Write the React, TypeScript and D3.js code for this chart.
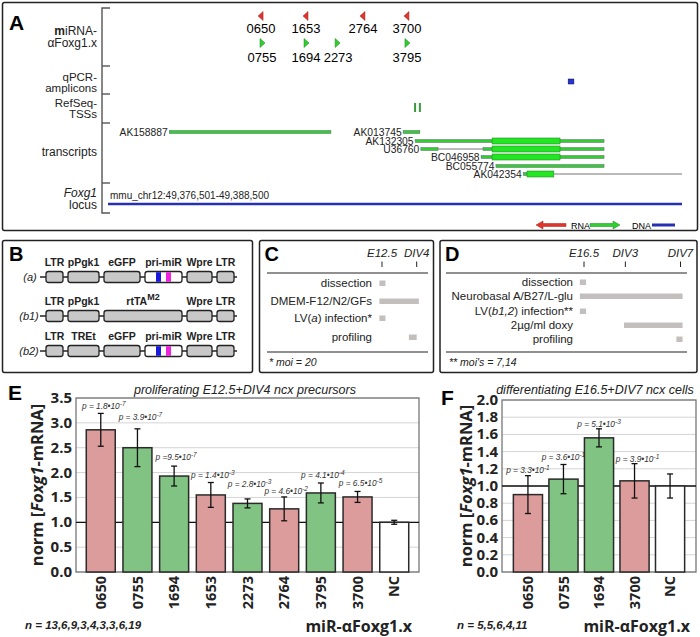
import React from "react";
import * as d3 from "d3";

const W = 700;
const H = 637;
const FONT = "'Liberation Sans', Arial, Helvetica, sans-serif";
const BOLD = "'Open Sans', 'Liberation Sans', Arial, sans-serif";

// ---------- Panel A data (kb within the 12 kb locus window) ----------
const locusLabel = "mmu_chr12:49,376,501-49,388,500";
const mirRnaNames = ["0650", "1653", "2764", "3700"];
const mirRnaPos = [3.2, 4.14, 5.33, 6.25];
const mirDnaNames = ["0755", "1694", "2273", "3795"];
const mirDnaPos = [3.22, 4.14, 4.79, 6.25];
const ampliconPos = [9.62, 9.74];
const tssPos = [6.42, 6.52];
const transcriptNames = ["AK158887", "AK013745", "AK132305", "U36760", "BC046958", "BC055774", "AK042354"];
const transcriptThin = [
  [[1.28, 4.66]],
  [[6.17, 6.52]],
  [[6.42, 10.37]],
  [[6.54, 6.9], [7.84, 10.37]],
  [[7.8, 10.37]],
  [[8.11, 10.37]],
  [[8.68, 8.76]],
];
const transcriptThick = [[], [], [[8.03, 9.45]], [[8.03, 9.45]], [[8.03, 9.45]], [], [[8.76, 9.32]]];
const transcriptIntron = [[], [], [], [[6.9, 7.84]], [], [], [[9.32, 12.0]]];
const trackLabels = [["miRNA-", "αFoxg1.x"], ["qPCR-", "amplicons"], ["RefSeq-", "TSSs"], ["transcripts"], ["Foxg1", "locus"]];

// ---------- Panel B data ----------
const constructNames = ["(a)", "(b1)", "(b2)"];
const constructParts = [
  ["LTR", "pPgk1", "eGFP", "pri-miR", "Wpre", "LTR"],
  ["LTR", "pPgk1", "rtTA", "Wpre", "LTR"],
  ["LTR", "TREt", "eGFP", "pri-miR", "Wpre", "LTR"],
];
const partLength: Record<string, number> = { LTR: 17, pPgk1: 31, TREt: 31, eGFP: 36, "pri-miR": 37, rtTA: 78, Wpre: 25 };

// ---------- Panel C / D data (days) ----------
const cTimeLabels = ["E12.5", "DIV4"];
const cTimeDays = [0, 4];
const cSteps = ["dissection", "DMEM-F12/N2/GFs", "LV(a) infection*", "profiling"];
const cStepRanges = [[-0.3, 0.4], [-0.3, 4.25], [-0.3, 0.4], [3.1, 4.0]];
const dTimeLabels = ["E16.5", "DIV3", "DIV7"];
const dTimeDays = [0, 3, 7];
const dSteps = ["dissection", "Neurobasal A/B27/L-glu", "LV(b1,2) infection**", "2µg/ml doxy", "profiling"];
const dStepRanges = [[-0.3, 0.15], [-0.3, 7.15], [-0.3, 0.15], [2.9, 7.15], [6.7, 7.15]];

// ---------- Panel E data ----------
const eCats = ["0650", "0755", "1694", "1653", "2273", "2764", "3795", "3700", "NC"];
const eValues = [2.86, 2.5, 1.93, 1.55, 1.38, 1.27, 1.59, 1.51, 1.0];
const eErrors = [0.33, 0.38, 0.2, 0.25, 0.09, 0.24, 0.2, 0.11, 0.04];
const eColors = ["pink", "green", "green", "pink", "green", "pink", "green", "pink", "white"];
const ePBase = ["p = 1.8•10", "p = 3.9•10", "p =9.5•10", "p = 1.4•10", "p = 2.8•10", "p = 4.6•10", "p = 4.1•10", "p = 6.5•10"];
const ePExp = ["-7", "-7", "-7", "-3", "-3", "-2", "-4", "-5"];
const eTicks = [0, 0.5, 1.0, 1.5, 2.0, 2.5, 3.0, 3.5];

// ---------- Panel F data ----------
const fCats = ["0650", "0755", "1694", "3700", "NC"];
const fValues = [0.9, 1.08, 1.56, 1.06, 1.0];
const fErrors = [0.22, 0.17, 0.105, 0.2, 0.14];
const fColors = ["pink", "green", "green", "pink", "white"];
const fPBase = ["p = 3.3•10", "p = 3.6•10", "p = 5.1•10", "p = 3.9•10"];
const fPExp = ["-1", "-1", "-3", "-1"];
const fTicks = [0, 0.2, 0.4, 0.6, 0.8, 1.0, 1.2, 1.4, 1.6, 1.8, 2.0];

const FILL: Record<string, string> = { pink: "#dd9c9c", green: "#80c383", white: "#ffffff" };

function PanelA() {
  const x = d3.scaleLinear().domain([0, 12]).range([108, 682]);
  const axisTicks = [8, 66, 94, 123, 183, 213];
  const labelY = [[35, 47], [80.5, 92], [106.5, 118], [156], [197, 209]];
  const tY = [132, 132, 141, 149, 157, 166, 174];
  return (
    <g fontFamily={FONT}>
      <rect x={2.5} y={2.5} width={695} height={228} fill="none" stroke="#222" strokeWidth={1.5} rx={2} />
      <text x={9} y={30} fontSize={21} fontWeight="bold">A</text>
      <path d={`M110,8 H102 V213 H110`} fill="none" stroke="#555" strokeWidth={1.4} />
      {axisTicks.slice(1, 5).map((t, i) => (
        <line key={i} x1={102} x2={110} y1={t} y2={t} stroke="#555" strokeWidth={1.4} />
      ))}
      {trackLabels.map((lines, i) =>
        lines.map((l, j) => (
          <text key={i + "-" + j} x={97} y={labelY[i][j]} fontSize={i === 1 || i === 2 ? 11.5 : 12} textAnchor="end" fill="#222" fontStyle={i === 4 && j === 0 ? "italic" : "normal"}>
            {i === 0 && j === 0 ? (<><tspan fontWeight="bold">m</tspan>iRNA-</>) : l}
          </text>
        ))
      )}
      {mirRnaPos.map((p, i) => {
        const cx = x(p);
        return (
          <g key={"r" + i}>
            <path d={`M${cx - 3},16 L${cx + 2},11.5 L${cx + 2},20.5 Z`} fill="#e0362a" stroke="#a02020" strokeWidth={0.5} />
            <text x={cx} y={33} fontSize={13} textAnchor="middle">{mirRnaNames[i]}</text>
          </g>
        );
      })}
      {mirDnaPos.map((p, i) => {
        const cx = x(p);
        return (
          <g key={"d" + i}>
            <path d={`M${cx + 3},43 L${cx - 2},38.5 L${cx - 2},47.5 Z`} fill="#2fcf2f" stroke="#208020" strokeWidth={0.5} />
            <text x={i === 2 ? cx + 1 : cx} y={61.5} fontSize={13} textAnchor="middle">{mirDnaNames[i]}</text>
          </g>
        );
      })}
      <rect x={x(ampliconPos[0])} y={79} width={x(ampliconPos[1]) - x(ampliconPos[0])} height={5} fill="#2233dd" stroke="#112" strokeWidth={0.5} />
      {tssPos.map((p, i) => (
        <rect key={i} x={x(p) - 1} y={103} width={2} height={9} fill="#3a9a3a" />
      ))}
      {transcriptNames.map((name, i) => {
        const y = tY[i];
        const start = transcriptThin[i][0][0];
        return (
          <g key={name}>
            {transcriptIntron[i].map((s, k) => (
              <line key={"i" + k} x1={x(s[0])} x2={x(s[1])} y1={y} y2={y} stroke="#777" strokeWidth={1} />
            ))}
            {transcriptThin[i].map((s, k) => (
              <rect key={"t" + k} x={x(s[0])} y={y - 1.5} width={x(s[1]) - x(s[0])} height={3} fill="#2fcf2f" stroke="#667" strokeWidth={0.5} />
            ))}
            {transcriptThick[i].map((s, k) => (
              <rect key={"k" + k} x={x(s[0])} y={y - 3} width={x(s[1]) - x(s[0])} height={6} fill="#22e622" stroke="#2a8a2a" strokeWidth={0.6} />
            ))}
            <text x={x(start) - 1.5} y={y + 3.6} fontSize={10.3} textAnchor="end" fill="#222">{name}</text>
          </g>
        );
      })}
      <line x1={x(0)} x2={x(12)} y1={204} y2={204} stroke="#2630b0" strokeWidth={2.5} />
      <text x={110} y={199} fontSize={10} fill="#222">{locusLabel}</text>
      {/* legend */}
      <path d="M536,225 L543,221 L543,223.5 L566,223.5 L566,226.5 L543,226.5 L543,229 Z" fill="#e0362a" stroke="#a02020" strokeWidth={0.5} />
      <text x={571} y={228.5} fontSize={9}>RNA</text>
      <path d="M620,225 L613,221 L613,223.5 L590,223.5 L590,226.5 L613,226.5 L613,229 Z" fill="#2fcf2f" stroke="#208020" strokeWidth={0.5} />
      <text x={632} y={228.5} fontSize={9}>DNA</text>
      <rect x={652} y={223.5} width={23} height={3} fill="#2630b0" />
    </g>
  );
}

function PanelB() {
  const rowsLabelY = [266, 305, 340];
  const rowsBoxY = [277, 316, 351];
  const gap = 5;
  return (
    <g fontFamily={FONT}>
      <rect x={2.5} y={240.5} width={250} height={132} fill="none" stroke="#222" strokeWidth={1.5} rx={2} />
      <text x={9} y={261} fontSize={20} fontWeight="bold">B</text>
      {constructParts.map((parts, r) => {
        let cur = 46;
        const cy = rowsBoxY[r];
        const items = parts.map((p) => {
          const x0 = cur;
          const w = partLength[p];
          cur += w + gap;
          return { p, x0, w };
        });
        return (
          <g key={r}>
            <text x={r === 0 ? 30 : 29} y={cy + 4} fontSize={11} fontStyle="italic" textAnchor="middle" fill="#222">{constructNames[r]}</text>
            <line x1={40} x2={237} y1={cy} y2={cy} stroke="#222" strokeWidth={1.5} />
            {items.map((it, k) => (
              <g key={k}>
                <rect x={it.x0} y={cy - 5.5} width={it.w} height={11} rx={2.5} fill={it.p === "pri-miR" ? "#fff" : "#c8c8c8"} stroke="#222" strokeWidth={1.3} />
                {it.p === "pri-miR" && (
                  <>
                    <rect x={it.x0 + 11} y={cy - 4.8} width={5} height={9.6} fill="#1a1adc" />
                    <rect x={it.x0 + 21} y={cy - 4.8} width={5} height={9.6} fill="#ee22dd" />
                  </>
                )}
                <text x={it.x0 + it.w / 2} y={rowsLabelY[r]} fontSize={10.5} fontWeight="bold" textAnchor="middle" fill="#222">
                  {it.p === "rtTA" ? (<>rtTA<tspan dy={-5} fontSize={9}>M2</tspan></>) : it.p}
                </text>
              </g>
            ))}
          </g>
        );
      })}
    </g>
  );
}

function Timeline(props: {
  bx: number; bw: number; letter: string; labels: string[]; days: number[]; steps: string[]; ranges: number[][];
  scale: d3.ScaleLinear<number, number>; lineX: [number, number]; stepY: number[]; textX: number; note: string; noteX: number;
}) {
  const { bx, bw, letter, labels, days, steps, ranges, scale, lineX, stepY, textX, note, noteX } = props;
  return (
    <g fontFamily={FONT}>
      <rect x={bx} y={240.5} width={bw} height={132} fill="none" stroke="#222" strokeWidth={1.5} rx={2} />
      <text x={bx + 5} y={261} fontSize={20} fontWeight="bold">{letter}</text>
      {labels.map((l, i) => (
        <g key={l}>
          <text x={scale(days[i])} y={257} fontSize={11.5} fontStyle="italic" textAnchor="middle" fill="#222">{l}</text>
          <line x1={scale(days[i])} x2={scale(days[i])} y1={261.5} y2={267} stroke="#222" strokeWidth={1} />
        </g>
      ))}
      <line x1={lineX[0]} x2={lineX[1]} y1={273} y2={273} stroke="#222" strokeWidth={1.2} />
      {steps.map((s, i) => (
        <g key={s}>
          <text x={textX} y={stepY[i] + 4} fontSize={11.5} textAnchor="end" fill="#222">
            {s.startsWith("LV(") ? (
              <>LV(<tspan fontStyle="italic">{s.slice(3, s.indexOf(")"))}</tspan>{s.slice(s.indexOf(")"))}</>
            ) : s}
          </text>
          <rect x={scale(ranges[i][0])} y={stepY[i] - 2.5} width={scale(ranges[i][1]) - scale(ranges[i][0])} height={5.5} fill="#c4bfbf" />
        </g>
      ))}
      <line x1={lineX[0]} x2={lineX[1]} y1={352} y2={352} stroke="#222" strokeWidth={1.2} />
      <text x={noteX} y={366} fontSize={10.5} fontStyle="italic" fill="#222">{note}</text>
    </g>
  );
}

function BarPanel(props: {
  letter: string; letterX: number; letterY: number; title: string; titleX: number; x0: number; x1: number; yTop: number; yBot: number;
  max: number; ticks: number[]; tickFmt: (v: number) => string; cats: string[]; values: number[]; errors: number[]; colors: string[];
  pBase: string[]; pExp: string[]; pOffsets: number[]; pDx: number[]; yTitleX: number; nText: string; nX: number; xTitleX: number; po: number; pi: number;
}) {
  const p = props;
  const y = d3.scaleLinear().domain([0, p.max]).range([p.yBot, p.yTop]);
  const x = d3.scaleBand().domain(p.cats).range([p.x0, p.x1]).paddingInner(p.pi).paddingOuter(p.po);
  const bw = x.bandwidth();
  return (
    <g fontFamily={FONT}>
      <text x={p.letterX} y={p.letterY} fontSize={21} fontWeight="bold">{p.letter}</text>
      <text x={p.titleX} y={394} fontSize={12.5} fontStyle="italic" textAnchor="middle" fill="#222">{p.title}</text>
      {p.ticks.map((t) => (
        <line key={"g" + t} x1={p.x0} x2={p.x1} y1={y(t)} y2={y(t)} stroke="#d4d4d4" strokeWidth={1} />
      ))}
      <rect x={p.x0} y={p.yTop} width={p.x1 - p.x0} height={p.yBot - p.yTop} fill="none" stroke="#777" strokeWidth={1.3} />
      {p.ticks.map((t) => (
        <text key={"t" + t} x={p.x0 - 4} y={y(t) + 5} fontSize={15} fontWeight="bold" textAnchor="end" fontFamily={BOLD} fill="#222">{p.tickFmt(t)}</text>
      ))}
      <line x1={p.x0} x2={p.x1} y1={y(1)} y2={y(1)} stroke="#111" strokeWidth={1.3} />
      {p.cats.map((c, i) => {
        const bx = x(c) as number;
        const cx = bx + bw / 2;
        const top = y(p.values[i]);
        const eT = y(p.values[i] + p.errors[i]);
        const eB = y(p.values[i] - p.errors[i]);
        return (
          <g key={c}>
            <rect x={bx} y={top} width={bw} height={p.yBot - top} fill={FILL[p.colors[i]]} stroke="#2a2a2a" strokeWidth={1.5} />
            <line x1={cx} x2={cx} y1={eT} y2={eB} stroke="#111" strokeWidth={1.3} />
            <line x1={cx - 3} x2={cx + 3} y1={eT} y2={eT} stroke="#111" strokeWidth={1.3} />
            <line x1={cx - 3} x2={cx + 3} y1={eB} y2={eB} stroke="#111" strokeWidth={1.3} />
            {i < p.pBase.length && (
              <text x={cx + p.pDx[i]} y={eT - p.pOffsets[i]} fontSize={8.3} fontStyle="italic" textAnchor="middle" fill="#333">
                {p.pBase[i]}<tspan dy={-3} fontSize={6.5}>{p.pExp[i]}</tspan>
              </text>
            )}
            <text transform={`translate(${cx},${p.yBot + 4}) rotate(-90)`} fontSize={14.5} fontWeight="bold" textAnchor="end" dy="0.36em" fontFamily={BOLD} fill="#222">{c}</text>
          </g>
        );
      })}
      <text transform={`translate(${p.yTitleX},${(p.yTop + p.yBot) / 2}) rotate(-90)`} fontSize={16.5} fontWeight="bold" textAnchor="middle" dy="0.35em" fontFamily={BOLD} fill="#222">
        norm [<tspan fontStyle="italic">Foxg1</tspan>-mRNA]
      </text>
      <text x={p.nX} y={629} fontSize={11.5} fontWeight="bold" fontStyle="italic" fill="#222">{p.nText}</text>
      <text x={p.xTitleX} y={632} fontSize={16} fontWeight="bold" textAnchor="end" fontFamily={BOLD} fill="#222">miR-αFoxg1.x</text>
    </g>
  );
}

export default function App() {
  const cScale = d3.scaleLinear().domain([0, 4]).range([382, 416.7]);
  const dScale = d3.scaleLinear().domain([0, 7]).range([584, 680.5]);
  return (
    <svg width={W} height={H} viewBox={`0 0 ${W} ${H}`} style={{ position: "absolute", left: 0, top: 0, display: "block" }}>
      <rect x={0} y={0} width={W} height={H} fill="#fff" />
      <PanelA />
      <PanelB />
      <Timeline bx={259.5} bw={174} letter="C" labels={cTimeLabels} days={cTimeDays} steps={cSteps} ranges={cStepRanges}
        scale={cScale} lineX={[267, 428]} stepY={[283, 301, 318, 337]} textX={372} note="* moi = 20" noteX={269} />
      <Timeline bx={440} bw={257} letter="D" labels={dTimeLabels} days={dTimeDays} steps={dSteps} ranges={dStepRanges}
        scale={dScale} lineX={[446, 687]} stepY={[282, 296, 311, 325, 339]} textX={573} note="** moi's = 7,14" noteX={449} />
      <BarPanel letter="E" letterX={8} letterY={400} title="proliferating E12.5+DIV4 ncx precursors" titleX={245}
        x0={76} x1={419} yTop={398} yBot={572} max={3.5} ticks={eTicks} tickFmt={(v) => v.toFixed(1)}
        cats={eCats} values={eValues} errors={eErrors} colors={eColors} pBase={ePBase} pExp={ePExp}
        pOffsets={[4, 9, 6, 5, 12, 3, 5, 5]} pDx={[3, 3, 2, 2, 2, 2, 2, 3]} yTitleX={37}
        nText="n = 13,6,9,3,4,3,3,6,19" nX={25} xTitleX={412} po={0.28} pi={0.21} />
      <BarPanel letter="F" letterX={441} letterY={405} title="differentiating E16.5+DIV7 ncx cells" titleX={595}
        x0={502} x1={696} yTop={400} yBot={572} max={2.0} ticks={fTicks} tickFmt={(v) => v.toFixed(1)}
        cats={fCats} values={fValues} errors={fErrors} colors={fColors} pBase={fPBase} pExp={fPExp}
        pOffsets={[3, 4.5, 2, 2]} pDx={[0, 0, 0, 3]} yTitleX={466}
        nText="n = 5,5,6,4,11" nX={457} xTitleX={690} po={0.32} pi={0.18} />
    </svg>
  );
}
